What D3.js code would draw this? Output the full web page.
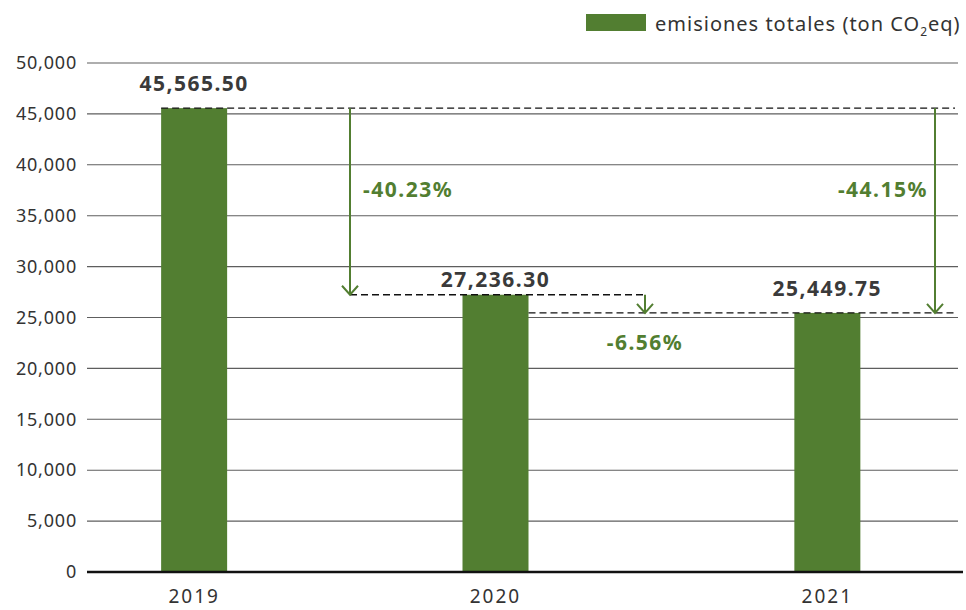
<!DOCTYPE html>
<html>
<head>
<meta charset="utf-8">
<script src="https://cdn.jsdelivr.net/npm/d3@7"></script>
<style>
  body { margin: 0; background: #fff; }
  text { font-family: "Noto Sans", "Open Sans", sans-serif; }
</style>
</head>
<body>
<div id="chart"></div>
<script>
// data
var years = ["2019", "2020", "2021"];
var emissions = [45565.50, 27236.30, 25449.75];
var valueLabels = ["45,565.50", "27,236.30", "25,449.75"];
var yTicks = [0, 5000, 10000, 15000, 20000, 25000, 30000, 35000, 40000, 45000, 50000];
var changes = [
  {from: "2019", to: "2020", label: "-40.23%"},
  {from: "2020", to: "2021", label: "-6.56%"},
  {from: "2019", to: "2021", label: "-44.15%"}
];
var legendLabel = "emisiones totales (ton CO";

// plot box (note: "top" is reserved on window, so use other names)
var W = 966, H = 610;
var plotL = 87, plotR = 958, plotT = 63, plotB = 572;
var green = "#527e31", dark = "#3a3a3a";
var font = "'Noto Sans', 'Open Sans', sans-serif";

var svg = d3.select("#chart").append("svg")
  .attr("width", W).attr("height", H);

var y = d3.scaleLinear().domain([0, 50000]).range([plotB, plotT]);
// category positions as fractions of plot width
var x = d3.scaleOrdinal().domain(years)
  .range([0.123, 0.469, 0.85].map(function(f) { return plotL + f * (plotR - plotL); }));
var barW = 66;

// gridlines
svg.selectAll(".grid").data(yTicks.slice(1)).enter().append("line")
  .attr("x1", plotL).attr("x2", plotR)
  .attr("y1", function(d) { return y(d); }).attr("y2", function(d) { return y(d); })
  .style("stroke", "#5e5e5e").style("stroke-width", 1.1);

// y axis labels
var yAxis = svg.append("g").attr("transform", "translate(" + plotL + ",0)")
  .call(d3.axisLeft(y).tickValues(yTicks).tickSize(0).tickPadding(10).tickFormat(d3.format(",")));
yAxis.select(".domain").remove();
yAxis.selectAll("text").style("font-size", "18px").style("fill", "#333")
  .style("letter-spacing", "0.8px").style("font-family", font);

// bars
svg.selectAll(".bar").data(emissions).enter().append("rect")
  .attr("x", function(d, i) { return x(years[i]) - barW / 2; })
  .attr("y", function(d) { return y(d); })
  .attr("width", barW)
  .attr("height", function(d) { return y(0) - y(d); })
  .style("fill", green);

// baseline
svg.append("line").attr("x1", plotL).attr("x2", 963)
  .attr("y1", y(0)).attr("y2", y(0))
  .style("stroke", "#111").style("stroke-width", 2.5);

// x labels
svg.selectAll(".xl").data(years).enter().append("text")
  .attr("x", function(d) { return x(d); }).attr("y", 603)
  .attr("text-anchor", "middle").style("font-size", "19px").style("fill", "#333")
  .style("letter-spacing", "2px")
  .text(function(d) { return d; });

// value labels
var labelGap = [17, 8, 17];
svg.selectAll(".vl").data(emissions).enter().append("text")
  .attr("x", function(d, i) { return x(years[i]); })
  .attr("y", function(d, i) { return y(d) - labelGap[i]; })
  .attr("text-anchor", "middle").style("font-size", "21px").style("font-weight", "bold")
  .style("letter-spacing", "1.5px").style("fill", dark)
  .text(function(d, i) { return valueLabels[i]; });

// arrow positions
var val = {};
years.forEach(function(d, i) { val[d] = emissions[i]; });
var arrowX = {"2019-2020": 350, "2020-2021": 645, "2019-2021": 935};

function dashed(x1, x2, v) {
  svg.append("line").attr("x1", x1).attr("x2", x2)
    .attr("y1", y(v)).attr("y2", y(v))
    .style("stroke", "#111").style("stroke-width", 1.3).style("stroke-dasharray", "7,4");
}
dashed(x("2019") - barW / 2, 955, val["2019"]);
dashed(350, 645, val["2020"]);
dashed(x("2020") + barW / 2, 955, val["2021"]);

changes.forEach(function(c) {
  var ax = arrowX[c.from + "-" + c.to];
  var y1 = y(val[c.from]), y2 = y(val[c.to]);
  svg.append("line").attr("x1", ax).attr("x2", ax).attr("y1", y1).attr("y2", y2)
    .style("stroke", green).style("stroke-width", 2);
  svg.append("path")
    .attr("d", "M" + (ax - 8) + "," + (y2 - 9) + "L" + ax + "," + y2 + "L" + (ax + 8) + "," + (y2 - 9))
    .style("fill", "none").style("stroke", green).style("stroke-width", 2);
});

// change labels
function pct(c, px, py, anchor) {
  svg.append("text").attr("x", px).attr("y", py).attr("text-anchor", anchor)
    .style("font-size", "21px").style("font-weight", "bold").style("letter-spacing", "1.5px")
    .style("fill", green).text(c.label);
}
pct(changes[0], 363, 197, "start");
pct(changes[1], 645, 350, "middle");
pct(changes[2], 928, 197, "end");

// legend
svg.append("rect").attr("x", 586).attr("y", 14).attr("width", 60).attr("height", 17).style("fill", green);
var lt = svg.append("text").attr("x", 655).attr("y", 31).style("font-size", "20px")
  .style("letter-spacing", "1px").style("fill", "#333");
lt.append("tspan").text(legendLabel);
lt.append("tspan").attr("dy", 5).style("font-size", "12px").text("2");
lt.append("tspan").attr("dy", -5).text("eq)");
</script>
</body>
</html>
